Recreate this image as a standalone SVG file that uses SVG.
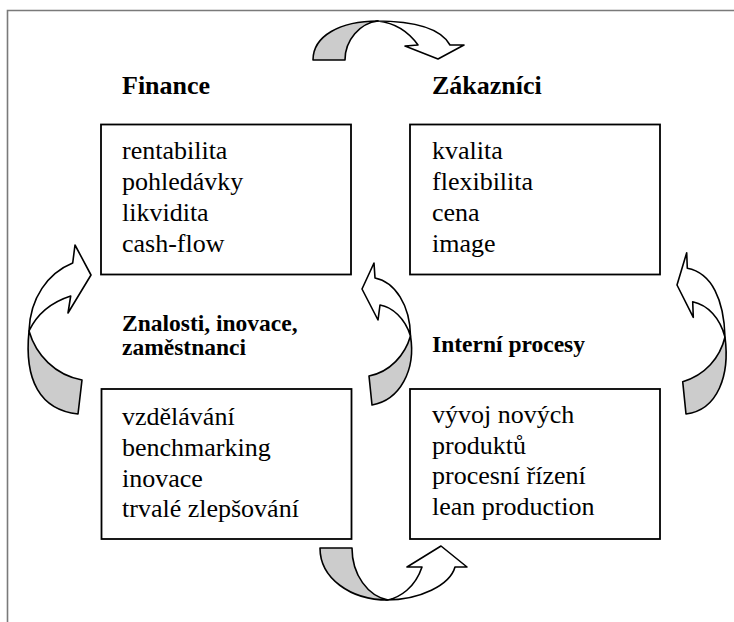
<svg xmlns="http://www.w3.org/2000/svg" width="734" height="622" viewBox="0 0 734 622">
  <style>
    .frame { fill: none; stroke: #7a7a7a; stroke-width: 1.6; }
    .box { fill: #ffffff; stroke: #000000; stroke-width: 1.8; }
    text { font-family: 'Liberation Serif', 'Times New Roman', 'DejaVu Serif', serif; fill: #000; }
    .head { font-weight: bold; }
    .h1 { font-size: 26px; }
    .h2 { font-size: 23.5px; }
    .body { font-size: 26px; }
    .back { fill: #cccccc; stroke: #000; stroke-width: 1.6; stroke-linejoin: round; }
    .front { fill: #ffffff; stroke: #000; stroke-width: 1.6; stroke-linejoin: round; }
  </style>

  <!-- page frame -->
  <path class="frame" d="M7.5,622 V10.5 H734"/>

  <g id="finance" font-family="Liberation Serif, Times New Roman, serif">
    <text class="head h1" x="122" y="94">Finance</text>
    <rect class="box" x="101" y="124.5" width="250" height="150"/>
    <text class="body" x="122" y="159">rentabilita</text>
    <text class="body" x="122" y="190">pohledávky</text>
    <text class="body" x="122" y="221">likvidita</text>
    <text class="body" x="122" y="252">cash-flow</text>
  </g>

  <g id="zakaznici" font-family="Liberation Serif, Times New Roman, serif">
    <text class="head h1" x="432" y="94">Zákazníci</text>
    <rect class="box" x="410" y="124.5" width="250" height="150"/>
    <text class="body" x="432" y="159">kvalita</text>
    <text class="body" x="432" y="190">flexibilita</text>
    <text class="body" x="432" y="221">cena</text>
    <text class="body" x="432" y="252">image</text>
  </g>

  <g id="znalosti" font-family="Liberation Serif, Times New Roman, serif">
    <text class="head h2" x="122" y="331">Znalosti, inovace,</text>
    <text class="head h2" x="122" y="355">zaměstnanci</text>
    <rect class="box" x="101.5" y="389" width="250" height="150"/>
    <text class="body" x="122" y="425">vzdělávání</text>
    <text class="body" x="122" y="456">benchmarking</text>
    <text class="body" x="122" y="487">inovace</text>
    <text class="body" x="122" y="517">trvalé zlepšování</text>
  </g>

  <g id="interni" font-family="Liberation Serif, Times New Roman, serif">
    <text class="head h2" x="432" y="352">Interní procesy</text>
    <rect class="box" x="410" y="389" width="250" height="150"/>
    <text class="body" x="432" y="423">vývoj nových</text>
    <text class="body" x="432" y="454">produktů</text>
    <text class="body" x="432" y="484">procesní řízení</text>
    <text class="body" x="432" y="515">lean production</text>
  </g>

  <g id="connectors">
    <!-- top: curved arrow pointing down-right -->
    <path class="back" d="M313,60 C313,36 340,21 378,21 C360,23 345,40 345,60 Z"/>
    <path class="front" d="M376,21 C410,21 440,27 450,45 L464,45 L438,59 L405,46 L418,45 C408,31 395,23 378,21 Z"/>

    <!-- bottom: curved arrow pointing up-right -->
    <path class="back" d="M320,548 C320,578 350,600 388,600 C368,596 352,575 352,548 Z"/>
    <path class="front" d="M386,600 C420,600 450,585 455,567 L467,567 L441,546 L407,567 L422,567 C415,588 400,597 388,600 Z"/>

    <!-- left: curved arrow pointing right -->
    <path class="back" d="M29,331 C24,380 40,410 78,414 L82,380 C55,375 36,355 29,331 Z"/>
    <path class="front" d="M29,331 C30,298 48,273 72.7,263 L75,245 L91,275 L68,313 L70.7,296 C52,302 37,314 29,331 Z"/>

    <!-- middle right: curved arrow pointing left -->
    <path class="back" d="M410.5,336 C416,370 400,400 372,405 L369,376 C390,372 405,355 410.5,336 Z"/>
    <path class="front" d="M410.5,336 C410,305 395,282 375,278 L374,263 L362,289 L378,320 L380,305 C392,307 405,318 410.5,336 Z"/>

    <!-- far right: curved arrow pointing left -->
    <path class="back" d="M725,337 C730,375 718,410 686,414 L682.7,381.7 C705,375 720,358 725,337 Z"/>
    <path class="front" d="M725,337 C724,300 712,273 687.3,268.3 L686.7,252.7 L677,285 L693.3,317.3 L692.7,301.7 C708,305 720,318 725,337 Z"/>
  </g>
</svg>
